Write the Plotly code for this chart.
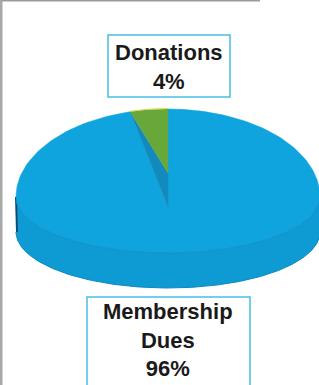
import numpy as np
import plotly.graph_objects as go

# ---- data ----
categories = ["Membership Dues", "Donations"]
label_lines = ["Membership<br>Dues", "Donations"]
values = [96, 4]

# ---- styling / geometry (pixel space) ----
W, H = 319, 385
cx, cy = 168, 197          # ellipse centre of top face
cvy = 207                  # projected centre (slice vertex)
rx, ry_up, ry_dn = 152, 88, 56
depth = 35
raise_px = 34
blue_top = "#0fa4dd"
blue_side = "#0e9bd3"
blue_dark = "#138abd"
green = "#68a83a"
cyan_box = "#45bfe6"
txt_col = "#1a1a1a"


def pt(theta_deg):
    t = np.radians(theta_deg)
    s = np.sin(t)
    x = cx + rx * np.cos(t)
    y = cy - (ry_up if s > 0 else ry_dn) * s
    return x, y


def arc(a0, a1, n=200):
    th = np.linspace(a0, a1, n)
    pts = [pt(t) for t in th]
    return [p[0] for p in pts], [p[1] for p in pts]


total = sum(values)
don_span = values[1] / total * 360.0
start = 90.0
don_end = start + don_span

fig = go.Figure()

# side wall (front half)
sx, sy = arc(180, 360)
side_x = sx + sx[::-1]
side_y = sy + [y + depth for y in sy[::-1]]
fig.add_trace(go.Scatter(x=side_x, y=side_y, fill="toself", mode="lines",
                         fillcolor=blue_side, line=dict(color="#0d88bf", width=1),
                         hoverinfo="skip", showlegend=False))
# dark left edge
fig.add_trace(go.Scatter(x=[sx[0], sx[0] + 1], y=[sy[0], sy[0] + depth], mode="lines",
                         line=dict(color="#0a4f78", width=2), hoverinfo="skip", showlegend=False))

# membership top face
mx, my = arc(don_end, start + 360)
fig.add_trace(go.Scatter(x=[cx] + mx + [cx], y=[cvy] + my + [cvy], fill="toself", mode="lines",
                         fillcolor=blue_top, line=dict(color=blue_top, width=0.5),
                         name=categories[0], hoverinfo="name", showlegend=False))
# rim line on top face front
rx_, ry_ = arc(185, 355)
fig.add_trace(go.Scatter(x=rx_, y=ry_, mode="lines", line=dict(color="#1a93c8", width=1),
                         hoverinfo="skip", showlegend=False))

# dark wall under raised donation slice
ax_, ay_ = pt(don_end)
fig.add_trace(go.Scatter(x=[ax_, cx, cx, ax_], y=[ay_, cvy, cvy - raise_px, ay_], fill="toself",
                         mode="lines", fillcolor=blue_dark, line=dict(color=blue_dark, width=0.5),
                         hoverinfo="skip", showlegend=False))
# donations slice
dx, dy = arc(start, don_end, 40)
fig.add_trace(go.Scatter(x=[cx] + dx + [cx], y=[cvy - raise_px] + dy + [cvy - raise_px],
                         fill="toself", mode="lines", fillcolor=green,
                         line=dict(color=green, width=0.5), name=categories[1],
                         hoverinfo="name", showlegend=False))
fig.add_trace(go.Scatter(x=dx, y=[y - 0.5 for y in dy], mode="lines",
                         line=dict(color="#d8d84a", width=1), hoverinfo="skip", showlegend=False))

# label boxes
fig.add_shape(type="rect", x0=108, x1=230, y0=35, y1=97, line=dict(color=cyan_box, width=1.5),
              fillcolor="white", layer="below")
fig.add_shape(type="rect", x0=87, x1=250, y0=297, y1=392, line=dict(color=cyan_box, width=1.5),
              fillcolor="white", layer="below")

pcts = [f"{round(v / total * 100)}%" for v in values]
font = dict(family="Liberation Sans, Arial, sans-serif", size=22, color=txt_col)
fig.add_annotation(x=169, y=67, text=f"<b>{label_lines[1]}<br>{pcts[1]}</b>", showarrow=False,
                   font=font, xanchor="center", yanchor="middle")
fig.add_annotation(x=168, y=340, text=f"<b>{label_lines[0]}<br>{pcts[0]}</b>", showarrow=False,
                   font=font, xanchor="center", yanchor="middle")

# scan frame
fig.add_shape(type="line", x0=0, x1=260, y0=0.5, y1=0.5, line=dict(color="#9a9a9a", width=2))
fig.add_shape(type="line", x0=1, x1=1, y0=0, y1=385, line=dict(color="#a8a8a8", width=3))

fig.update_layout(
    width=W, height=H, autosize=False,
    margin=dict(l=0, r=0, t=0, b=0),
    paper_bgcolor="white", plot_bgcolor="white",
    xaxis=dict(range=[0, W], visible=False, fixedrange=True),
    yaxis=dict(range=[H, 0], visible=False, fixedrange=True),
    showlegend=False,
)

fig.write_html("out.html", config={"displayModeBar": False},
               post_script="document.body.style.margin='0';")
